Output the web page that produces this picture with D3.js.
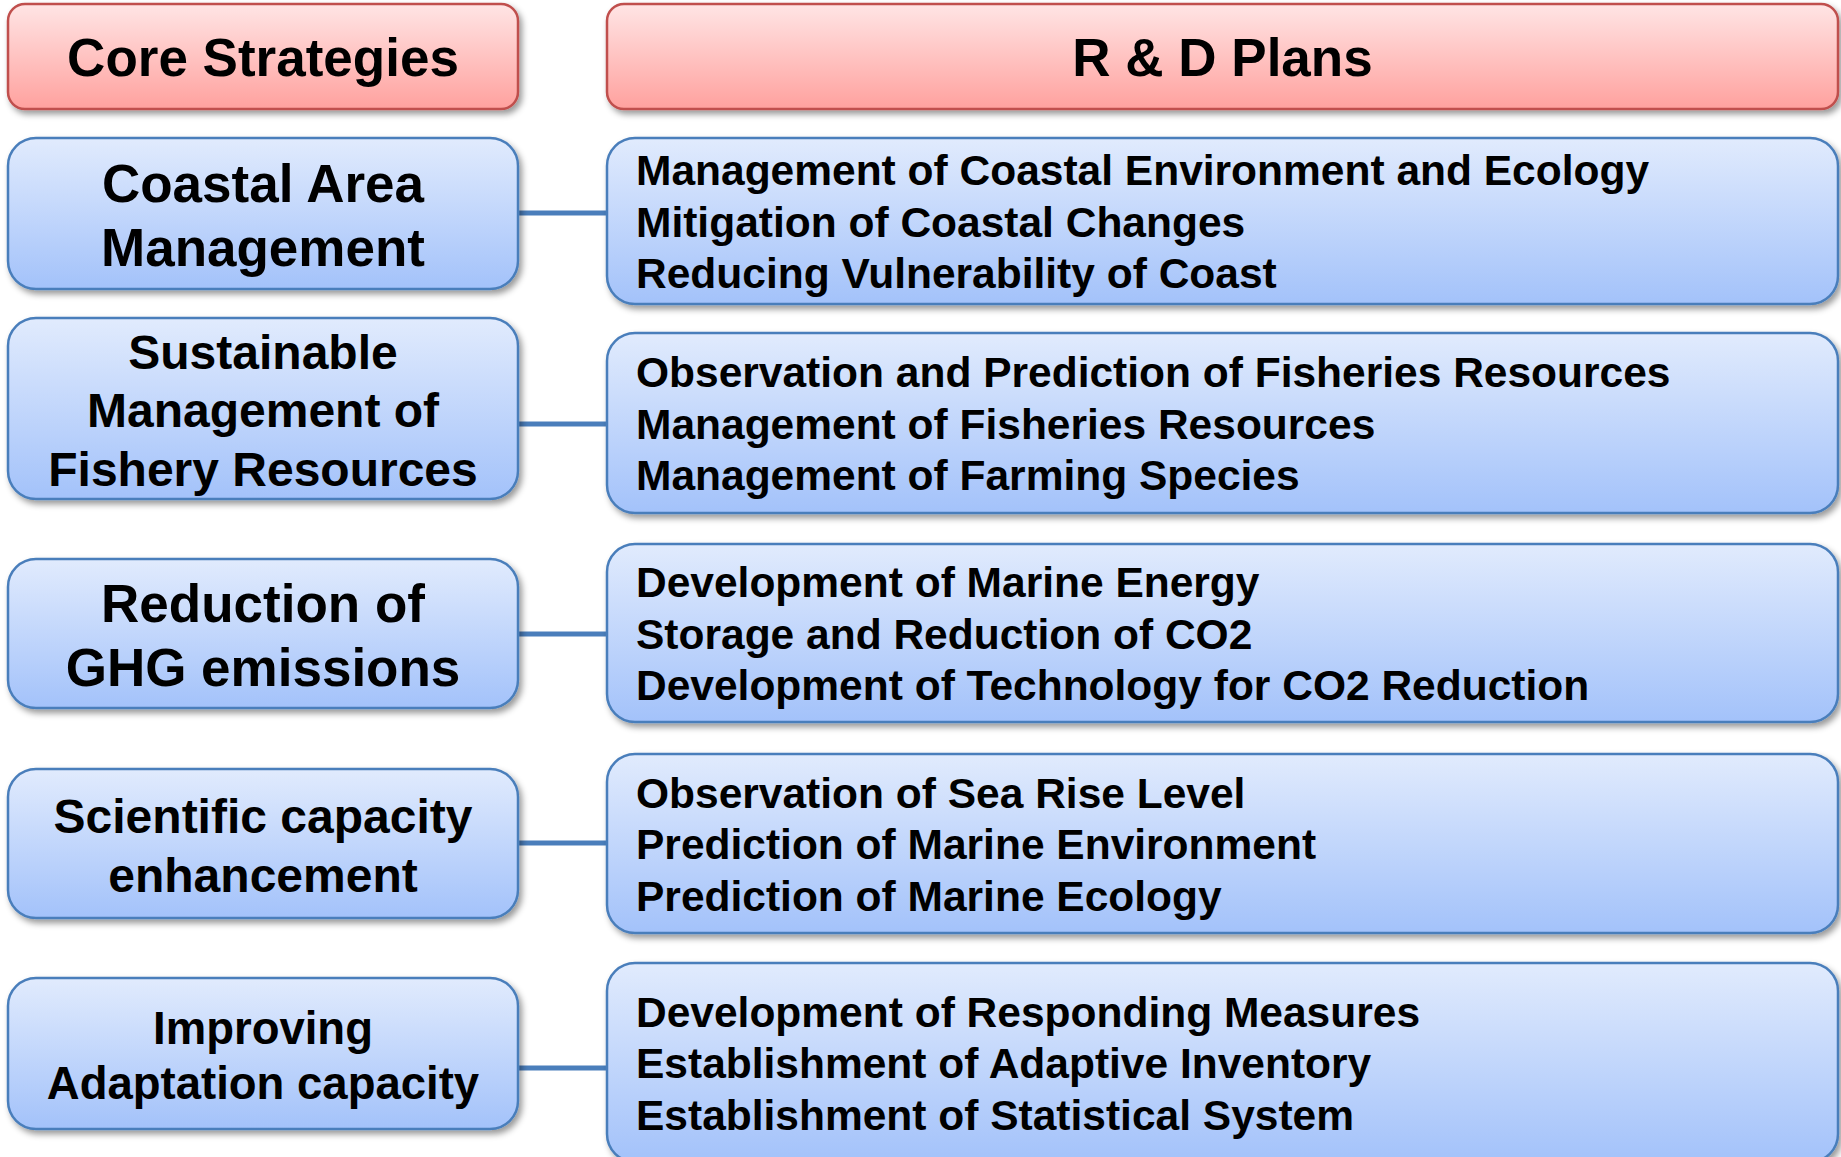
<!DOCTYPE html>
<html>
<head>
<meta charset="utf-8">
<script src="https://cdn.jsdelivr.net/npm/d3@7"></script>
<style>
  html, body { margin: 0; padding: 0; background: #fff; }
  svg { display: block; }
  text { font-family: "Liberation Sans", Arial, sans-serif; font-weight: bold; fill: #000; }
</style>
</head>
<body>
<div id="diagram"></div>
<script>
// headers
var headers = ["Core Strategies", "R & D Plans"];

// left column: core strategies (one entry per line)
var strategies = [
  ["Coastal Area", "Management"],
  ["Sustainable", "Management of", "Fishery Resources"],
  ["Reduction of", "GHG emissions"],
  ["Scientific capacity", "enhancement"],
  ["Improving", "Adaptation capacity"]
];

// right column: R & D plans
var plans = [
  ["Management of Coastal Environment and Ecology", "Mitigation of Coastal Changes", "Reducing Vulnerability of Coast"],
  ["Observation and Prediction of Fisheries Resources", "Management of Fisheries Resources", "Management of Farming Species"],
  ["Development of Marine Energy", "Storage and Reduction of CO2", "Development of Technology for CO2 Reduction"],
  ["Observation of Sea Rise Level", "Prediction of Marine Environment", "Prediction of Marine Ecology"],
  ["Development of Responding Measures", "Establishment of Adaptive Inventory", "Establishment of Statistical System"]
];

// layout (pixel boxes, not data)
var width = 1841, height = 1157;
var leftX = 8, leftW = 510, rightX = 607, rightW = 1231;
var leftBoxes  = [[138, 289], [318, 499], [559, 708], [769, 918], [978, 1129]];
var rightBoxes = [[138, 304], [333, 513], [544, 722], [754, 933], [963, 1162]];
var linkY = [213, 424, 634, 843, 1068];
var leftFont = [53, 48, 53, 48, 45.5];
var rightFont = 42.5, rightLH = 51.5, rightTextX = 636;

var svg = d3.select("#diagram").append("svg")
    .attr("width", width)
    .attr("height", height);

var defs = svg.append("defs");

function grad(id, top, bottom) {
  var g = defs.append("linearGradient")
      .attr("id", id)
      .attr("x1", 0).attr("y1", 0).attr("x2", 0).attr("y2", 1);
  g.append("stop").attr("offset", "0%").attr("stop-color", top);
  g.append("stop").attr("offset", "100%").attr("stop-color", bottom);
}
grad("redGrad", "#ffe5e5", "#ffa19e");
grad("blueGrad", "#e1ebfd", "#a3c2fa");

var shadow = defs.append("filter").attr("id", "shadow")
    .attr("x", "-5%").attr("y", "-10%").attr("width", "115%").attr("height", "130%");
shadow.append("feDropShadow")
    .attr("dx", 3).attr("dy", 4)
    .attr("stdDeviation", 3)
    .attr("flood-color", "#000")
    .attr("flood-opacity", 0.4);

// connectors first so boxes sit on top
svg.selectAll(".link").data(linkY).enter().append("line")
    .attr("class", "link")
    .attr("x1", leftX + leftW).attr("x2", rightX)
    .attr("y1", function(d) { return d; })
    .attr("y2", function(d) { return d; })
    .attr("stroke", "#4a7ebb")
    .attr("stroke-width", 5);

// header boxes
var hdr = [[leftX, leftW], [rightX, rightW]];
var hg = svg.selectAll(".header").data(headers).enter().append("g").attr("class", "header");
hg.append("rect")
    .attr("x", function(d, i) { return hdr[i][0]; })
    .attr("y", 4)
    .attr("width", function(d, i) { return hdr[i][1]; })
    .attr("height", 105)
    .attr("rx", 17)
    .attr("fill", "url(#redGrad)")
    .attr("stroke", "#c0504d")
    .attr("stroke-width", 2.5)
    .attr("filter", "url(#shadow)");
hg.append("text")
    .attr("x", function(d, i) { return hdr[i][0] + hdr[i][1] / 2; })
    .attr("y", 57 + 53 * 0.35)
    .attr("text-anchor", "middle")
    .style("font-size", "53px")
    .text(function(d) { return d; });

// left strategy boxes
var lg = svg.selectAll(".strategy").data(strategies).enter().append("g").attr("class", "strategy");
lg.append("rect")
    .attr("x", leftX)
    .attr("y", function(d, i) { return leftBoxes[i][0]; })
    .attr("width", leftW)
    .attr("height", function(d, i) { return leftBoxes[i][1] - leftBoxes[i][0]; })
    .attr("rx", 28)
    .attr("fill", "url(#blueGrad)")
    .attr("stroke", "#4a7ebb")
    .attr("stroke-width", 2.5)
    .attr("filter", "url(#shadow)");
lg.each(function(lines, i) {
  var fs = leftFont[i], lh = fs * 1.22;
  var cy = (leftBoxes[i][0] + leftBoxes[i][1]) / 2 + 2;
  d3.select(this).selectAll("text").data(lines).enter().append("text")
      .attr("x", leftX + leftW / 2)
      .attr("y", function(d, j) { return cy + (j - (lines.length - 1) / 2) * lh + fs * 0.35; })
      .attr("text-anchor", "middle")
      .style("font-size", fs + "px")
      .text(function(d) { return d; });
});

// right plan boxes
var rg = svg.selectAll(".plan").data(plans).enter().append("g").attr("class", "plan");
rg.append("rect")
    .attr("x", rightX)
    .attr("y", function(d, i) { return rightBoxes[i][0]; })
    .attr("width", rightW)
    .attr("height", function(d, i) { return rightBoxes[i][1] - rightBoxes[i][0]; })
    .attr("rx", 28)
    .attr("fill", "url(#blueGrad)")
    .attr("stroke", "#4a7ebb")
    .attr("stroke-width", 2.5)
    .attr("filter", "url(#shadow)");
rg.each(function(lines, i) {
  var cy = (rightBoxes[i][0] + rightBoxes[i][1]) / 2 + 1;
  d3.select(this).selectAll("text").data(lines).enter().append("text")
      .attr("x", rightTextX)
      .attr("y", function(d, j) { return cy + (j - (lines.length - 1) / 2) * rightLH + rightFont * 0.35; })
      .style("font-size", rightFont + "px")
      .text(function(d) { return d; });
});
</script>
</body>
</html>
